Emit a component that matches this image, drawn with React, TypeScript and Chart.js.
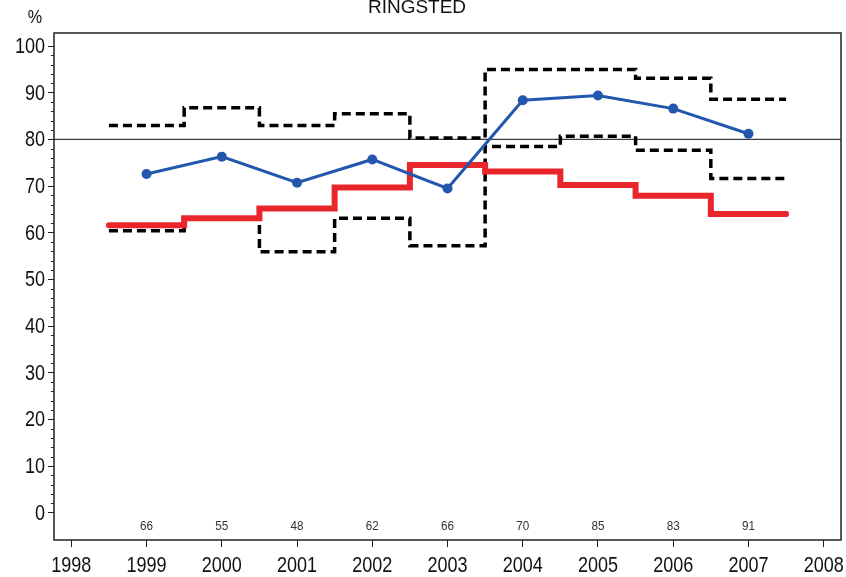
import React, { useEffect, useRef } from "react";
import { Chart, registerables } from "chart.js";

Chart.register(...registerables);

const chartTitle = "RINGSTED";
const yUnit = "%";
const years = [1999, 2000, 2001, 2002, 2003, 2004, 2005, 2006, 2007];
const observed = [72.6, 76.3, 70.7, 75.7, 69.5, 88.4, 89.4, 86.6, 81.2];
const expected = [61.6, 63.1, 65.2, 69.7, 74.5, 73.1, 70.2, 67.9, 64.0];
const upperLimit = [83.0, 86.8, 83.0, 85.5, 80.3, 95.0, 95.0, 93.1, 88.6];
const lowerLimit = [60.4, 62.9, 55.9, 63.1, 57.2, 78.5, 80.7, 77.7, 71.6];
const counts = [66, 55, 48, 62, 66, 70, 85, 83, 91];
const xTickValues = [1998, 1999, 2000, 2001, 2002, 2003, 2004, 2005, 2006, 2007, 2008];
const yTickValues = [0, 10, 20, 30, 40, 50, 60, 70, 80, 90, 100];
const referenceLevel = 80;
const countLevel = -3;
const xMin = 1997.77;
const xMax = 2008.23;
const yMin = -5.85;
const yMax = 102.8;

const FONT = "'Liberation Sans', Arial, sans-serif";
const SQUEEZE = 0.82;

function stepPoints(values: number[]) {
  const pts = values.map((v, i) => ({ x: years[i] - 0.5, y: v }));
  pts.push({ x: years[years.length - 1] + 0.5, y: values[values.length - 1] });
  return pts;
}

function narrowText(ctx: CanvasRenderingContext2D, text: string, x: number, y: number, align: "left" | "center" | "right", squeeze: number) {
  ctx.save();
  ctx.translate(x, y);
  ctx.scale(squeeze, 1);
  ctx.textAlign = align;
  ctx.fillText(text, 0, 0);
  ctx.restore();
}

const decor = {
  id: "decor",
  beforeDatasetsDraw(chart: any) {
    const { ctx, chartArea: a, scales } = chart;
    const ry = scales.y.getPixelForValue(referenceLevel);
    ctx.save();
    ctx.strokeStyle = "#3a3a3a";
    ctx.lineWidth = 1.3;
    ctx.beginPath();
    ctx.moveTo(a.left, ry);
    ctx.lineTo(a.right, ry);
    ctx.stroke();
    ctx.restore();
  },
  afterDraw(chart: any) {
    const { ctx, chartArea: a, scales } = chart;
    const x = scales.x;
    const y = scales.y;
    ctx.save();
    // frame
    ctx.strokeStyle = "#222";
    ctx.lineWidth = 1.5;
    ctx.strokeRect(a.left, a.top, a.right - a.left, a.bottom - a.top);
    // minor ticks on y axis
    ctx.lineWidth = 1;
    for (let v = 2; v < 100; v += 2) {
      if (v % 10 === 0) continue;
      const py = Math.round(y.getPixelForValue(v)) + 0.5;
      ctx.beginPath();
      ctx.moveTo(a.left - 3, py);
      ctx.lineTo(a.left, py);
      ctx.stroke();
    }
    // tick labels (condensed look)
    ctx.fillStyle = "#111";
    ctx.font = `22px ${FONT}`;
    ctx.textBaseline = "middle";
    yTickValues.forEach((v) => {
      narrowText(ctx, String(v), a.left - 9, y.getPixelForValue(v) + 1, "right", SQUEEZE);
    });
    xTickValues.forEach((v) => {
      narrowText(ctx, String(v), x.getPixelForValue(v), 566, "center", SQUEEZE);
    });
    // counts
    ctx.fillStyle = "#333";
    ctx.font = `13px ${FONT}`;
    counts.forEach((c, i) => {
      narrowText(ctx, String(c), x.getPixelForValue(years[i]), y.getPixelForValue(countLevel), "center", 0.9);
    });
    // title
    ctx.fillStyle = "#111";
    ctx.font = `19px ${FONT}`;
    ctx.textBaseline = "alphabetic";
    narrowText(ctx, chartTitle, 417, 13, "center", 1);
    // unit
    ctx.font = `18px ${FONT}`;
    ctx.textBaseline = "middle";
    narrowText(ctx, yUnit, 35, 18, "center", 0.9);
    ctx.restore();
  },
};

export default function App() {
  const ref = useRef<HTMLCanvasElement | null>(null);
  useEffect(() => {
    if (!ref.current) return;
    const chart = new Chart(ref.current, {
      type: "line",
      data: {
        datasets: [
          {
            label: "Observed",
            data: years.map((yr, i) => ({ x: yr, y: observed[i] })),
            borderColor: "#2356ad",
            backgroundColor: "#2356ad",
            borderWidth: 3,
            pointRadius: 5,
            pointBorderWidth: 0,
            pointBackgroundColor: "#2356ad",
            order: 0,
          },
          {
            label: "Expected",
            data: stepPoints(expected),
            stepped: true,
            borderColor: "#e8262b",
            borderWidth: 6,
            borderCapStyle: "round",
            borderJoinStyle: "miter",
            pointRadius: 0,
            order: 1,
          },
          {
            label: "Upper",
            data: stepPoints(upperLimit),
            stepped: true,
            borderColor: "#000",
            borderWidth: 3.5,
            borderDash: [9, 5],
            pointRadius: 0,
            order: 2,
          },
          {
            label: "Lower",
            data: stepPoints(lowerLimit),
            stepped: true,
            borderColor: "#000",
            borderWidth: 3.5,
            borderDash: [9, 5],
            pointRadius: 0,
            order: 3,
          },
        ],
      },
      options: {
        animation: false,
        responsive: false,
        devicePixelRatio: 1,
        layout: { padding: { top: 33, left: 0, right: 5, bottom: 0 } },
        plugins: { legend: { display: false }, tooltip: { enabled: false }, title: { display: false } },
        scales: {
          x: {
            type: "linear",
            min: xMin,
            max: xMax,
            afterBuildTicks: (s: any) => {
              s.ticks = xTickValues.map((v) => ({ value: v }));
            },
            afterFit: (s: any) => {
              s.height = 37;
            },
            border: { display: false },
            grid: { display: true, drawOnChartArea: false, drawTicks: true, tickLength: 7, color: "#222", lineWidth: 1 },
            ticks: { display: false },
          },
          y: {
            type: "linear",
            min: yMin,
            max: yMax,
            afterBuildTicks: (s: any) => {
              s.ticks = yTickValues.map((v) => ({ value: v }));
            },
            afterFit: (s: any) => {
              s.width = 54;
            },
            border: { display: false },
            grid: { display: true, drawOnChartArea: false, drawTicks: true, tickLength: 6, color: "#222", lineWidth: 1 },
            ticks: { display: false },
          },
        },
      },
      plugins: [decor],
    } as any);
    return () => chart.destroy();
  }, []);
  return (
    <div style={{ position: "absolute", left: 0, top: 0, width: 846, height: 577, background: "#fff" }}>
      <canvas ref={ref} width={846} height={577} style={{ display: "block" }} />
    </div>
  );
}
